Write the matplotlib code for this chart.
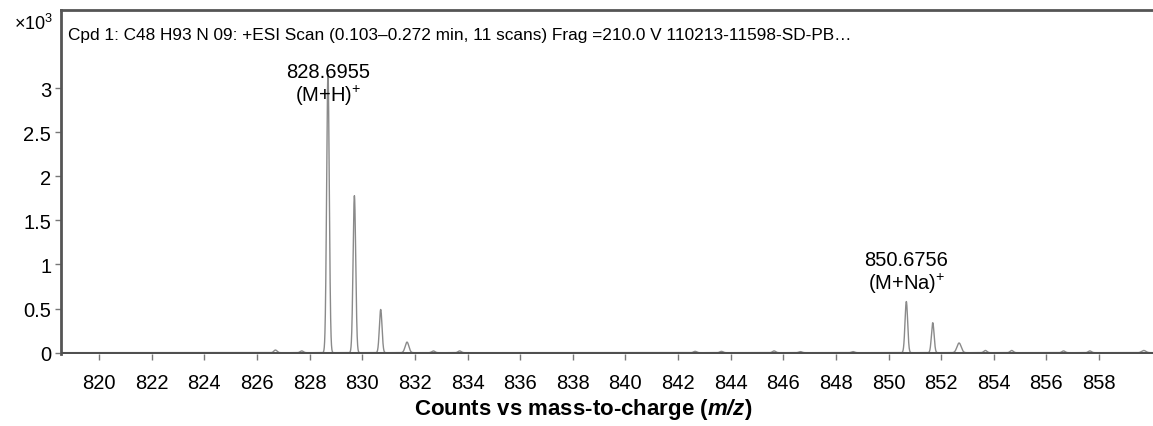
import numpy as np
import matplotlib
matplotlib.use("Agg")
import matplotlib.pyplot as plt

plt.rcParams['font.family'] = ['Liberation Sans', 'DejaVu Sans']
plt.rcParams['mathtext.fontset'] = 'custom'
plt.rcParams['mathtext.rm'] = 'Liberation Sans'
plt.rcParams['mathtext.it'] = 'Liberation Sans:italic'
plt.rcParams['mathtext.bf'] = 'Liberation Sans:bold'
try:
    plt.rcParams['mathtext.bfit'] = 'Liberation Sans:italic:bold'
except KeyError:
    pass

# Peak list (m/z, intensity in 10^3 counts)
peak_mz = [826.70, 827.70, 828.6955, 829.70, 830.70, 831.70, 832.70, 833.70,
           842.65, 843.65, 845.65, 846.65, 848.65, 850.6756, 851.68, 852.68,
           853.68, 854.68, 856.65, 857.65, 859.70]
peak_int = [0.03, 0.02, 3.17, 1.78, 0.49, 0.12, 0.02, 0.02,
            0.015, 0.015, 0.02, 0.012, 0.012, 0.58, 0.34, 0.11,
            0.025, 0.025, 0.02, 0.02, 0.025]
peak_sigma = [0.06, 0.06, 0.05, 0.05, 0.05, 0.07, 0.06, 0.06,
              0.06, 0.06, 0.06, 0.06, 0.06, 0.05, 0.05, 0.08,
              0.06, 0.06, 0.06, 0.06, 0.08]

xticks = list(range(820, 860, 2))
yticks = [0, 0.5, 1, 1.5, 2, 2.5, 3]
ytick_labels = ['0', '0.5', '1', '1.5', '2', '2.5', '3']

title = "Cpd 1: C48 H93 N 09: +ESI Scan (0.103\u20130.272 min, 11 scans) Frag =210.0 V 110213-11598-SD-PB\u2026"
# (x, y of first line, y of second line, text1, text2)
annotations = [(828.6955, 3.19, 2.92, "828.6955", "(M+H)$^{+}$"),
               (850.6756, 1.06, 0.79, "850.6756", "(M+Na)$^{+}$")]

x = np.linspace(818.0, 861.0, 20000)
y = np.zeros_like(x)
for m, h, s in zip(peak_mz, peak_int, peak_sigma):
    y += h * np.exp(-0.5 * ((x - m) / s) ** 2)

fig = plt.figure(figsize=(11.53, 4.27), dpi=100)
ax = fig.add_axes([0.0529, 0.1686, 0.9471, 0.8045])
ax.plot(x, y, color='#8a8a8a', lw=1.0, zorder=2)
ax.axhline(0, color='#505050', lw=2.2, zorder=3)

ax.set_xlim(818.55, 860.05)
ax.set_ylim(-0.015, 3.88)
ax.set_xticks(xticks)
ax.set_xticklabels([str(t) for t in xticks])
ax.set_yticks(yticks)
ax.set_yticklabels(ytick_labels)
ax.tick_params(axis='both', direction='out', length=4, width=1, color='#777777',
               labelsize=14.5, labelcolor='black', pad=3)
ax.tick_params(axis='x', pad=10)

for side in ['right', 'bottom']:
    ax.spines[side].set_visible(False)
ax.spines['left'].set_color('#555555')
ax.spines['left'].set_linewidth(2)
ax.spines['top'].set_color('#555555')
ax.spines['top'].set_linewidth(2)

ax.text(0.006, 0.93, title, transform=ax.transAxes, fontsize=12.4,
        ha='left', va='center')
fig.text(0.029, 0.944, "\u00d710$^{3}$", fontsize=13, ha='center', va='center')

for mz, y1, y2, l1, l2 in annotations:
    ax.text(mz, y1, l1, ha='center', va='center', fontsize=14.5)
    ax.text(mz, y2, l2, ha='center', va='center', fontsize=14.5)

ax.set_xlabel(r"Counts vs mass-to-charge ($\mathbfit{m/z}$)", fontsize=16,
              fontweight='bold')
ax.xaxis.set_label_coords((583 - 61) / (1153 - 61), -0.122)

fig.savefig("out.png", dpi=100)
